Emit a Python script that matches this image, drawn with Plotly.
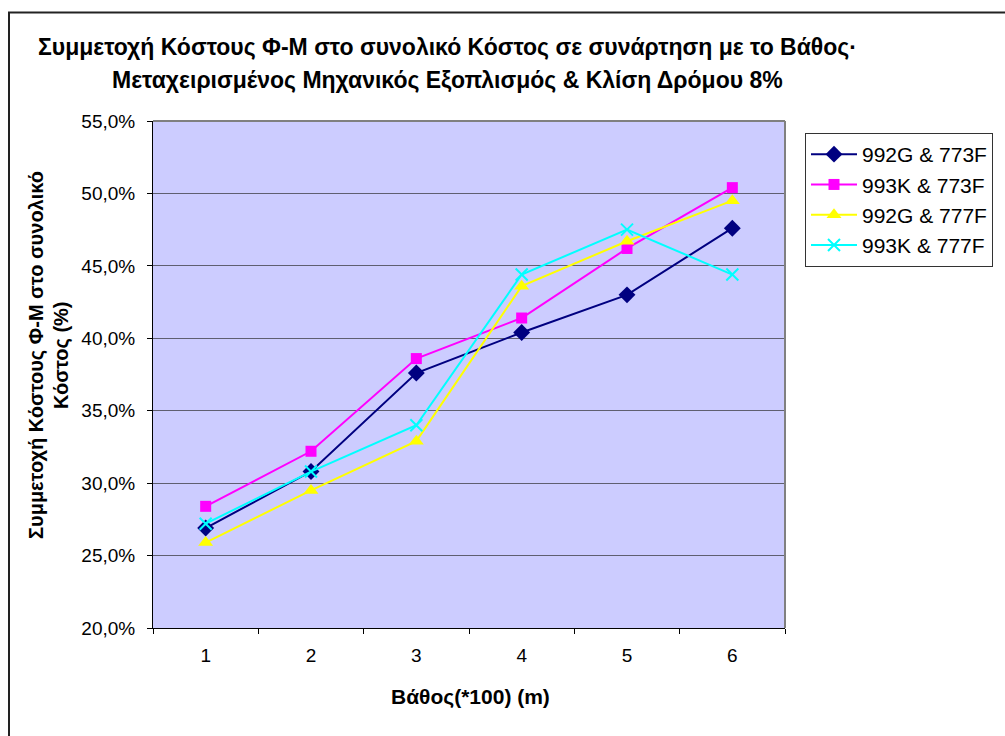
import plotly.graph_objects as go

categories = ["1", "2", "3", "4", "5", "6"]
s_992G_773F = [26.9, 30.8, 37.6, 40.4, 43.0, 47.6]
s_993K_773F = [28.4, 32.2, 38.6, 41.4, 46.2, 50.4]
s_992G_777F = [25.9, 29.5, 32.9, 43.6, 46.7, 49.5]
s_993K_777F = [27.2, 30.8, 34.0, 44.4, 47.5, 44.4]
series_names = ["992G & 773F", "993K & 773F", "992G & 777F", "993K & 777F"]
y_tickvals = [20, 25, 30, 35, 40, 45, 50, 55]
y_ticktext = ["20,0%", "25,0%", "30,0%", "35,0%", "40,0%", "45,0%", "50,0%", "55,0%"]

title_line1 = "Συμμετοχή Κόστους Φ-Μ στο συνολικό Κόστος σε συνάρτηση με το Βάθος·"
title_line2 = "Μεταχειρισμένος Μηχανικός Εξοπλισμός & Κλίση Δρόμου 8%"
ytitle_line1 = "Συμμετοχή Κόστους Φ-Μ στο συνολικό"
ytitle_line2 = "Κόστος (%)"
xtitle = "Βάθος(*100) (m)"

FONT = "Liberation Sans, Arial, sans-serif"
W, H = 1005, 736
L, R, T, B = 153, 785, 121, 628


def px_x(p):
    return (p - L) / (R - L)


def px_y(p):
    return 1 - (p - T) / (B - T)


styles = [
    dict(color="#000080", symbol="diamond", size=13),
    dict(color="#FF00FF", symbol="square", size=11),
    dict(color="#FFFF00", symbol="triangle-up", size=13),
    dict(color="#00FFFF", symbol="x-thin", size=12),
]
data = [s_992G_773F, s_993K_773F, s_992G_777F, s_993K_777F]

fig = go.Figure()
for i, (name, vals, st) in enumerate(zip(series_names, data, styles)):
    marker = dict(symbol=st["symbol"], size=st["size"], color=st["color"])
    if st["symbol"] == "x-thin":
        marker["line"] = dict(color=st["color"], width=2)
    else:
        marker["line"] = dict(width=0)
    fig.add_trace(go.Scatter(
        x=categories, y=vals, name=name, mode="lines+markers",
        line=dict(color=st["color"], width=2),
        marker=marker, legendgroup=f"g{i}",
    ))

fig.update_layout(
    width=W, height=H,
    margin=dict(l=L, r=W - R, t=T, b=H - B, pad=0),
    paper_bgcolor="white",
    plot_bgcolor="#CCCCFF",
    font=dict(family=FONT, size=19, color="black"),
    showlegend=True,
    legend=dict(
        x=px_x(805), y=px_y(133), xanchor="left", yanchor="top",
        bgcolor="white", bordercolor="#333333", borderwidth=1,
        font=dict(family=FONT, size=21),
        tracegroupgap=0, itemwidth=46,
    ),
)

fig.update_xaxes(
    type="category", range=[-0.5, 5.5],
    showline=True, linecolor="black", linewidth=1,
    ticks="outside", tickson="boundaries", ticklen=5, tickcolor="black",
    ticklabelstandoff=10,
    showgrid=False, zeroline=False,
    tickfont=dict(family=FONT, size=19),
)
fig.update_yaxes(
    range=[20, 55], tickvals=y_tickvals, ticktext=y_ticktext,
    showline=True, linecolor="black", linewidth=1,
    ticks="outside", ticklen=5, tickcolor="black", ticklabelstandoff=8,
    showgrid=True, gridcolor="#5f5f70", gridwidth=1, zeroline=False,
    tickfont=dict(family=FONT, size=19),
)

# plot-area border (top & right in gray)
fig.add_shape(type="line", xref="paper", yref="paper", x0=0, x1=1, y0=1, y1=1,
              line=dict(color="#808080", width=2), layer="above")
fig.add_shape(type="line", xref="paper", yref="paper", x0=1, x1=1, y0=0, y1=1,
              line=dict(color="#808080", width=2), layer="above")

# outer chart frame
fig.add_shape(type="rect", xref="paper", yref="paper",
              x0=px_x(9), x1=px_x(1015), y0=px_y(745), y1=px_y(12.5),
              line=dict(color="#222222", width=2), fillcolor="rgba(0,0,0,0)", layer="below")

fig.add_annotation(text="<b>" + title_line1 + "</b>", xref="paper", yref="paper",
                   x=px_x(447), y=px_y(47), showarrow=False, xanchor="center", yanchor="middle",
                   font=dict(family=FONT, size=23))
fig.add_annotation(text="<b>" + title_line2 + "</b>", xref="paper", yref="paper",
                   x=px_x(447), y=px_y(80), showarrow=False, xanchor="center", yanchor="middle",
                   font=dict(family=FONT, size=23))
fig.add_annotation(text="<b>" + ytitle_line1 + "</b>", xref="paper", yref="paper",
                   x=px_x(36), y=px_y(355), showarrow=False, textangle=-90,
                   xanchor="center", yanchor="middle", font=dict(family=FONT, size=20))
fig.add_annotation(text="<b>" + ytitle_line2 + "</b>", xref="paper", yref="paper",
                   x=px_x(61), y=px_y(355), showarrow=False, textangle=-90,
                   xanchor="center", yanchor="middle", font=dict(family=FONT, size=20))
fig.add_annotation(text="<b>" + xtitle + "</b>", xref="paper", yref="paper",
                   x=px_x(470), y=px_y(697), showarrow=False,
                   xanchor="center", yanchor="middle", font=dict(family=FONT, size=21))

fig.write_html("out.html")
